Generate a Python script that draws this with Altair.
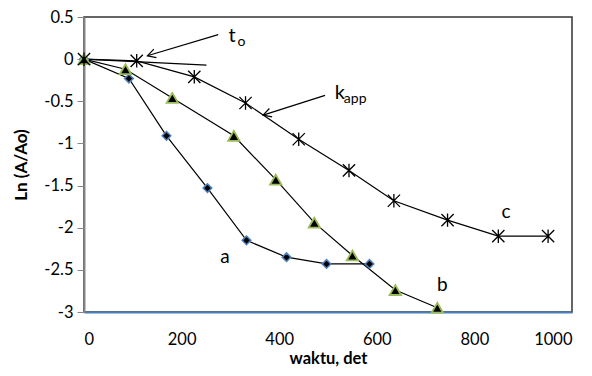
import altair as alt
import pandas as pd

# series a (diamonds)
a_x = [0, 92, 169, 253, 333, 415, 497, 585]
a_y = [0, -0.23, -0.91, -1.53, -2.15, -2.35, -2.43, -2.43]
# series b (triangles)
b_x = [0, 85, 181, 307, 393, 472, 550, 638, 724]
b_y = [0, -0.12, -0.46, -0.91, -1.43, -1.94, -2.33, -2.74, -2.95]
# series c (asterisks)
c_x = [0, 108, 226, 331, 440, 543, 635, 745, 849, 951]
c_y = [0, -0.02, -0.21, -0.52, -0.95, -1.32, -1.68, -1.91, -2.10, -2.10]

# tangent line near t_o
tan_x = [0, 251]
tan_y = [0, -0.07]
# arrows: start -> tip
arrow_names = ["to", "kapp"]
arrow_x1 = [275, 494]
arrow_y1 = [0.29, -0.43]
arrow_x2 = [130, 367]
arrow_y2 = [0.04, -0.665]
arrow_angle = [163, 162]

# labels
lab_text = ["a", "b", "c"]
lab_x = [289, 734, 865]
lab_y = [-2.35, -2.68, -1.81]

FONT = "Lato"

df = pd.concat([
    pd.DataFrame({"x": a_x, "y": a_y, "s": "a"}),
    pd.DataFrame({"x": b_x, "y": b_y, "s": "b"}),
    pd.DataFrame({"x": c_x, "y": c_y, "s": "c"}),
])

xs = alt.Scale(domain=[0, 1000], nice=False, zero=False)
ys = alt.Scale(domain=[-3, 0.5], nice=False, zero=False)

X = alt.X("x:Q", scale=xs, axis=alt.Axis(
    title="waktu, det", values=[0, 200, 400, 600, 800, 1000], grid=False,
    labelExpr="toString(datum.value)",
    ticks=False, domainColor="#4a7ebb", domainWidth=2, labelPadding=19,
    labelFont=FONT, labelFontSize=16.5, labelColor="#000", titleFont=FONT,
    titleFontSize=16.5, titleFontWeight="bold", titleColor="#000",
    titleBaseline="bottom", titleY=54))
Y = alt.Y("y:Q", scale=ys, axis=alt.Axis(
    title="Ln (A/Ao)", values=[-3, -2.5, -2, -1.5, -1, -0.5, 0, 0.5], grid=False,
    labelExpr="toString(datum.value)", tickColor="#868686", tickSize=7,
    domainColor="#868686", domainWidth=2, labelPadding=4,
    labelFont=FONT, labelFontSize=16.5, labelColor="#000", titleFont=FONT,
    titleFontSize=17, titleFontWeight="bold", titleColor="#000", titlePadding=13))

lines = alt.Chart(df).mark_line(color="black", strokeWidth=1.2).encode(
    x=X, y=Y, detail="s:N")

pa = alt.Chart(df[df.s == "a"]).mark_point(
    shape="diamond", filled=True, fill="black", stroke="#4f81bd",
    strokeWidth=1.5, size=75, opacity=1).encode(x="x:Q", y="y:Q")
pb = alt.Chart(df[df.s == "b"]).mark_point(
    shape="triangle-up", filled=True, fill="black", stroke="#9bbb59",
    strokeWidth=1.8, size=130, opacity=1).encode(x="x:Q", y="y:Q")
pc = alt.Chart(df[df.s == "c"]).mark_point(
    shape="M-1,-1L1,1M-1,1L1,-1M0,-1.1L0,1.1", filled=False, stroke="black",
    strokeWidth=1.3, size=150, opacity=1).encode(x="x:Q", y="y:Q")

tan = alt.Chart(pd.DataFrame({"x": tan_x, "y": tan_y})).mark_line(
    color="black", strokeWidth=1.2).encode(x="x:Q", y="y:Q")

arr = pd.DataFrame({"n": arrow_names, "x": arrow_x1, "y": arrow_y1,
                    "x2": arrow_x2, "y2": arrow_y2, "ang": arrow_angle})
arrow_lines = alt.Chart(arr).mark_rule(color="black", strokeWidth=1.2).encode(
    x="x:Q", y="y:Q", x2="x2:Q", y2="y2:Q")
arrow_heads = alt.Chart(arr).mark_point(
    shape="M-1,-0.55L0,0L-1,0.55", filled=False, stroke="black",
    strokeWidth=1.2, size=260, opacity=1).encode(
    x="x2:Q", y="y2:Q", angle=alt.Angle("ang:Q", scale=None))

labs = alt.Chart(pd.DataFrame({"t": lab_text, "x": lab_x, "y": lab_y})).mark_text(
    font=FONT, fontSize=19, color="black").encode(x="x:Q", y="y:Q", text="t:N")

main_t = ["t", "k"]
main_x = [296, 514]
main_y = [0.27, -0.40]
sub_t = ["o", "app"]
big = alt.Chart(pd.DataFrame({"t": main_t, "x": main_x, "y": main_y})).mark_text(
    font=FONT, fontSize=20, color="black", align="left", baseline="middle").encode(
    x="x:Q", y="y:Q", text="t:N")
small = alt.Chart(pd.DataFrame({"t": sub_t, "x": main_x, "y": main_y})).mark_text(
    font=FONT, fontSize=14, color="black", align="left", baseline="middle",
    dx=9, dy=6).encode(x="x:Q", y="y:Q", text="t:N")

chart = alt.layer(tan, arrow_lines, arrow_heads, lines, pa, pb, pc, labs, big, small).properties(
    width=488, height=295,
    autosize=alt.AutoSizeParams(type="none"),
    padding={"left": 76, "top": 9, "right": 12, "bottom": 56},
).configure_view(stroke="#333333", strokeWidth=1.5)

chart.save("out.html", embed_options={"renderer": "svg", "actions": False})
